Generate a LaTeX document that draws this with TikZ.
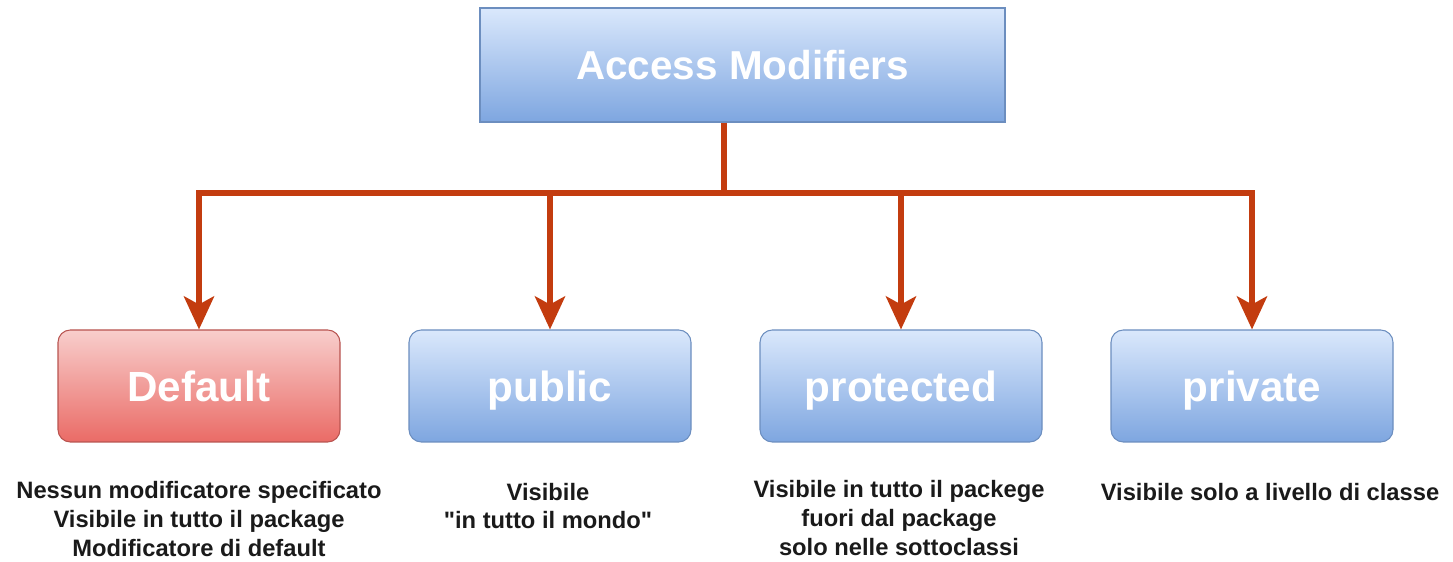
\documentclass[tikz,border=0pt]{standalone}
\usepackage{fontspec}
\setmainfont{Liberation Sans}
\usetikzlibrary{arrows.meta,calc}
\definecolor{rust}{HTML}{C33C0F}
\definecolor{bluetop}{HTML}{DAE8FC}
\definecolor{bluebot}{HTML}{7EA6E0}
\definecolor{blueline}{HTML}{6C8EBF}
\definecolor{redtop}{HTML}{F8CECC}
\definecolor{redbot}{HTML}{EA6B66}
\definecolor{redline}{HTML}{B85450}
\definecolor{ink}{HTML}{1A1A1A}
\tikzset{
  rootbox/.style={draw=blueline,line width=0.6pt,top color=bluetop,bottom color=bluebot,
    minimum width=10.5cm,minimum height=2.28cm,text=white,text height=16.5pt,text depth=0pt,
    font=\bfseries\fontsize{23}{27}\selectfont},
  modbox/.style={draw=blueline,line width=0.6pt,rounded corners=7pt,top color=bluetop,bottom color=bluebot,
    minimum width=5.64cm,minimum height=2.24cm,text=white,text height=17.3pt,text depth=0pt,
    font=\bfseries\fontsize{24}{28}\selectfont},
  defbox/.style={modbox,draw=redline,top color=redtop,bottom color=redbot},
  caption/.style={text=ink,font=\bfseries\fontsize{13.5}{16.4}\selectfont,align=center},
  link/.style={draw=rust,line width=3.4pt},
  arrow/.style={-{Stealth[length=6.6mm,width=6mm,inset=1.6mm]},draw=rust,line width=3.4pt}
}

\begin{document}
\begin{tikzpicture}[x=1cm,y=1cm]
  \path[use as bounding box] (0,0) rectangle (29.06,-11.24);

  % Root of the tree.
  \node[rootbox] (root) at (14.85,-1.30) {Access Modifiers};
  \coordinate (hub) at (14.48,-3.86);

  % The four modifiers.
  \node[defbox] (default) at (3.98,-7.72) {Default};
  \node[modbox] (public) at (11.00,-7.72) {public};
  \node[modbox] (protected) at (18.02,-7.72) {protected};
  \node[modbox] (private) at (25.04,-7.72) {private};

  % Connectors.
  \draw[link] (root.south -| hub) -- (hub);
  \draw[arrow] (hub) -| (default.north);
  \draw[arrow] (hub) -| (public.north);
  \draw[arrow] (hub) -| (protected.north);
  \draw[arrow] (hub) -| (private.north);

  % Descriptions.
  \node[caption] (defaultnote) at (3.98,-10.38)
    {Nessun modificatore specificato\\Visibile in tutto il package\\Modificatore di default};
  \node[caption] (publicnote) at (10.96,-10.12) {Visibile\\\textquotedbl in tutto il mondo\textquotedbl};
  \node[caption] (protectednote) at (17.98,-10.36)
    {Visibile in tutto il packege\\fuori dal package\\solo nelle sottoclassi};
  \node[caption] (privatenote) at (25.40,-9.84) {Visibile solo a livello di classe};
\end{tikzpicture}
\end{document}
